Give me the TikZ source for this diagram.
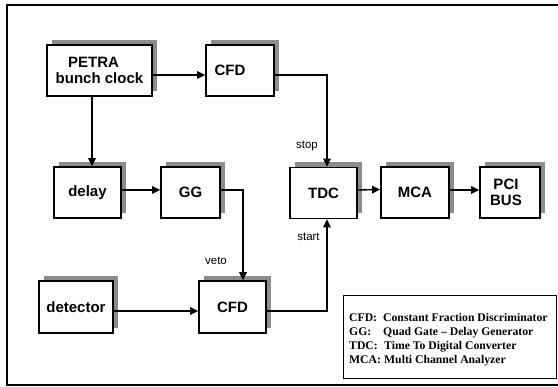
\documentclass[tikz,border=0pt]{standalone}
\usepackage{fontspec}
\setmainfont{Liberation Sans}
\newfontfamily\legfont{Liberation Serif}
\usetikzlibrary{arrows.meta,shadows}
\tikzset{
  blk/.style={draw, line width=1.8pt, fill=white, inner sep=0pt,
    minimum height=51pt, align=center,
    font=\bfseries\fontsize{15}{16.5}\selectfont,
    drop shadow={shadow xshift=5pt, shadow yshift=5pt, fill=gray!90, opacity=1}},
  arr/.style={line width=1.4pt, -{Triangle[length=8pt,width=7.5pt]}},
  lbl/.style={font=\fontsize{11.5}{13}\selectfont, inner sep=0pt},
  leg/.style={font=\legfont\bfseries\fontsize{11.7}{13}\selectfont, inner sep=0pt, anchor=base west}
}
\begin{document}
\begin{tikzpicture}[x=1pt,y=-1pt]
\useasboundingbox (0,0) rectangle (558,387);
\draw[line width=1.3pt] (7,5) rectangle (562,385);
% blocks
\node[blk, minimum width=105pt] (petra) at (99.5,70.5) {\hspace*{-12pt}PETRA\\bunch clock};
\node[blk, minimum width=68pt] (cfd1) at (240,70.5) {\hspace*{-20pt}CFD};
\node[blk, minimum width=67pt] (delay) at (87.5,192.5) {delay};
\node[blk, minimum width=59pt] (gg) at (190.5,192.5) {GG};
\node[blk, minimum width=67pt] (tdc) at (323.5,193) {TDC};
\node[blk, minimum width=68pt] (mca) at (415,192.5) {MCA};
\node[blk, minimum width=60pt] (pci) at (510,192.5) {\hspace*{-8pt}PCI\\\hspace*{-8pt}BUS};
\node[blk, minimum width=74pt, minimum height=52pt] (det) at (76,307) {detector};
\node[blk, minimum width=67pt, minimum height=52pt] (cfd2) at (232.5,307) {CFD};
% connectors
\draw[arr] ([yshift=-4.5pt]petra.east) -- ([yshift=-4.5pt]cfd1.west);
\draw[arr] ([xshift=-7.5pt]petra.south) -- ([xshift=-7.5pt]petra.south |- delay.north);
\draw[arr] ([yshift=2.5pt]delay.east) -- ([yshift=2.5pt]gg.west);
\draw[arr] ([yshift=2.5pt]gg.east) -| ([xshift=10.5pt]cfd2.north);
\draw[arr] ([yshift=-4pt]det.east) -- ([yshift=-4pt]cfd2.west);
\draw[arr] ([yshift=-4.5pt]cfd1.east) -| ([xshift=3.5pt]tdc.north);
\draw[arr] ([yshift=-4pt]cfd2.east) -| ([xshift=3.5pt]tdc.south);
\draw[arr] ([yshift=3pt]tdc.east) -- ([yshift=3pt]mca.west);
\draw[arr] ([yshift=2.5pt]mca.east) -- ([yshift=2.5pt]pci.west);
% labels
\node[lbl] (stop) at (307,146) {stop};
\node[lbl] (start) at (308.5,237) {start};
\node[lbl] (veto) at (216,261) {veto};
% legend
\draw[line width=1pt] (343,296) rectangle (556,379);
\node[leg] (a1) at (349,322) {CFD:};
\node[leg] (b1) at (383,322) {Constant Fraction Discriminator};
\node[leg] (a2) at (349,336) {GG:};
\node[leg] (b2) at (383,336) {Quad Gate – Delay Generator};
\node[leg] (a3) at (349,350) {TDC:};
\node[leg] (b3) at (384,350) {Time To Digital Converter};
\node[leg] (a4) at (349,363.5) {MCA:};
\node[leg] (b4) at (384,363.5) {Multi Channel Analyzer};
\end{tikzpicture}
\end{document}
